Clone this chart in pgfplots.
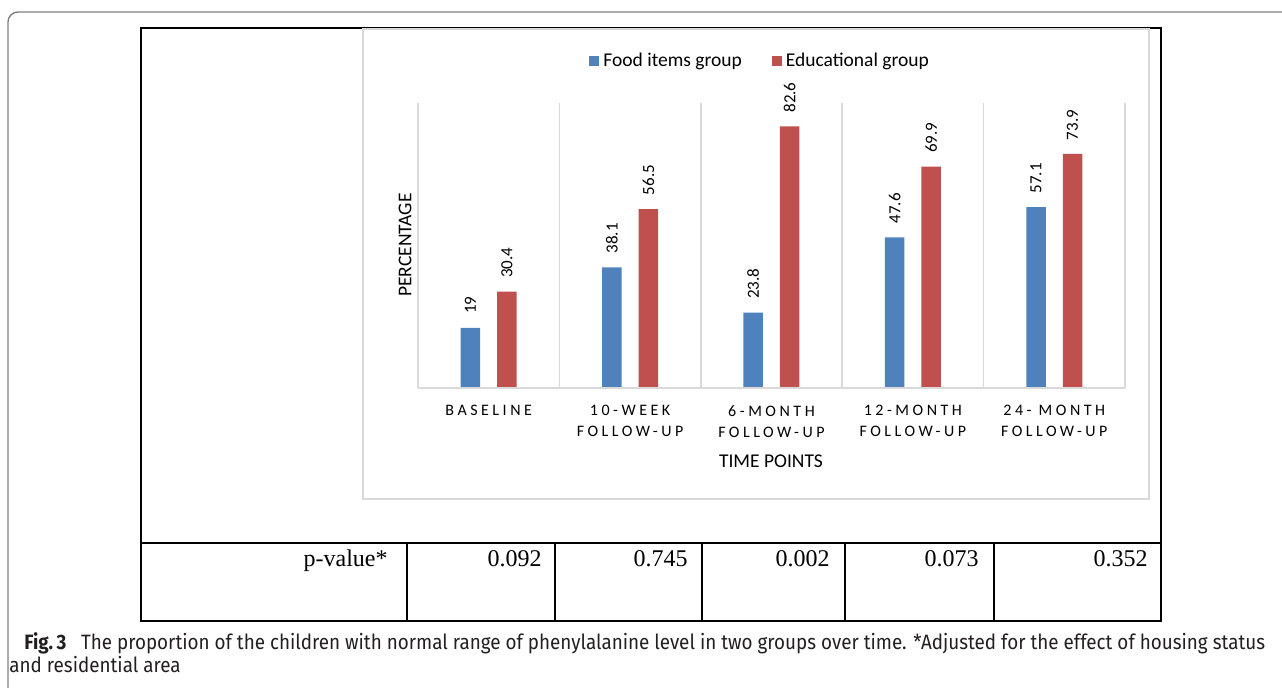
\documentclass[border=0pt]{standalone}
\usepackage{pgfplots}
\pgfplotsset{compat=1.18}
\usepackage{fontspec}
\setmainfont{Carlito}
\newfontfamily\tickfam[LetterSpace=22]{Carlito}
\newfontfamily\tabfont{Liberation Serif}
\newfontfamily\capfonttest{Fira Sans}
\newsavebox\capbox
\newdimen\capw
\sbox\capbox{\capfonttest\fontsize{10.4pt}{12pt}\selectfont\textbf{Fig.\,3}\hspace{0.7em}The proportion of the children with normal range of phenylalanine level in two groups over time. *Adjusted for the effect of housing status}
\capw=\wd\capbox
\pgfmathsetmacro\capfac{619.5/\capw}
\edef\makecapfont{\noexpand\newfontfamily\noexpand\capfont[FakeStretch=\capfac]{Fira Sans}}
\makecapfont
\definecolor{fooblue}{HTML}{4F81BD}
\definecolor{edured}{HTML}{C0504D}
\definecolor{gridgray}{HTML}{D9D9D9}
\definecolor{framegray}{HTML}{808080}
\definecolor{captext}{HTML}{231F20}
\begin{document}
\begin{tikzpicture}[x=0.5pt,y=0.5pt]
\useasboundingbox (0,0) rectangle (1282,687);
\clip (0,0) rectangle (1282,687);
% outer figure frame
\draw[framegray, line width=0.7pt, rounded corners=5pt] (8,-33) -- (8,675) -- (1320,675);
% black frame and table
\draw[black, line width=1pt] (141,659) rectangle (1161,66);
\draw[black, line width=1pt] (141,144) -- (1161,144);
\foreach \xx in {407,555,702,845,994} \draw[black, line width=1pt] (\xx,144) -- (\xx,66);
% chart area box
\draw[gridgray, line width=0.75pt] (363,658) rectangle (1149,188);
\begin{axis}[
  at={(209pt,149.5pt)}, anchor=south west, scale only axis,
  width=353.5pt, height=142.5pt,
  ybar, xmin=-0.5, xmax=4.5, ymin=0, ymax=90, clip=false,
  axis line style={draw=none},
  ytick=\empty,
  xtick={0,1,2,3,4},
  xticklabels={BASELINE,{10-WEEK\\FOLLOW-UP},{6-MONTH\\FOLLOW-UP},{12-MONTH\\FOLLOW-UP},{24- MONTH\\FOLLOW-UP}},
  xticklabel style={anchor=north, inner sep=0pt, yshift=-8.5pt, align=center,
    font=\tickfam\fontsize{8pt}{10.5pt}\selectfont},
  major tick length=0pt, minor tick length=0pt,
  minor xtick={-0.5,0.5,1.5,2.5,3.5,4.5},
  xminorgrids=true, xmajorgrids=false,
  minor grid style={gridgray, line width=0.75pt},
  xlabel={TIME POINTS},
  xlabel style={at={(axis description cs:0.4993,-0.2561)}, anchor=center, inner sep=0pt,
    font=\fontsize{9.75pt}{11pt}\selectfont},
  ylabel={PERCENTAGE},
  ylabel style={at={(axis description cs:-0.0184,0.5018)}, anchor=center, inner sep=0pt,
    font=\fontsize{9.75pt}{11pt}\selectfont},
  nodes near coords,
  every node near coord/.append style={/pgf/number format/assume math mode=true,
    font=\fontsize{8.5pt}{10pt}\selectfont, inner sep=0pt, yshift=6.75pt, rotate=90, anchor=west},
  legend columns=2,
  legend style={at={(axis description cs:0.2419,1.147)}, anchor=west, draw=none, fill=none,
    inner sep=0pt, column sep=2pt,
    /tikz/every even column/.append style={column sep=15pt},
    nodes={inner sep=0pt, font=\fontsize{9.75pt}{11pt}\selectfont}},
  legend image code/.code={\fill[#1] (0pt,-2.5pt) rectangle (5pt,2.5pt);},
]
\addplot[fill=fooblue, draw=none, bar width=9.75pt, bar shift=-9.125pt] coordinates {(0,19) (1,38.1) (2,23.8) (3,47.6) (4,57.1)};
\addlegendentry{Food items group}
\addplot[fill=edured, draw=none, bar width=9.75pt, bar shift=9.125pt] coordinates {(0,30.4) (1,56.5) (2,82.6) (3,69.9) (4,73.9)};
\addlegendentry{Educational group}
\draw[gridgray, line width=0.75pt] (axis cs:-0.5,0) -- (axis cs:4.5,0);
\end{axis}
% table text
\begin{scope}[every node/.style={inner sep=0pt, anchor=base east, font=\tabfont\fontsize{12pt}{14pt}\selectfont}]
\node at (388,121) {p-value*};
\node at (542,121) {0.092};
\node at (688,121) {0.745};
\node at (830,121) {0.002};
\node at (979,121) {0.073};
\node at (1148,121) {0.352};
\end{scope}
% caption
\node[anchor=base west, inner sep=0pt, text=captext, font=\capfont\fontsize{10.4pt}{12pt}\selectfont] at (24,38) {\textbf{Fig.\,3}\hspace{0.7em}The proportion of the children with normal range of phenylalanine level in two groups over time. *Adjusted for the effect of housing status};
\node[anchor=base west, inner sep=0pt, text=captext, font=\capfont\fontsize{10.4pt}{12pt}\selectfont] at (9,15) {and residential area};
\end{tikzpicture}
\end{document}
